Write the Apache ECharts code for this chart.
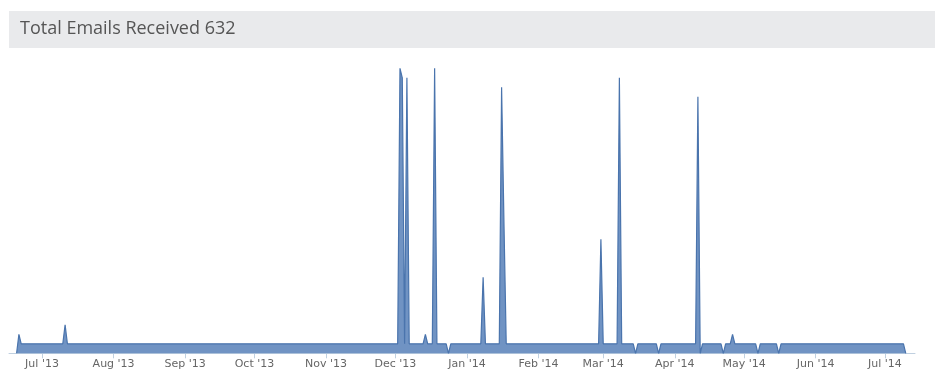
<!DOCTYPE html>
<html>
<head>
<meta charset="utf-8">
<script src="https://cdn.jsdelivr.net/npm/echarts@6/dist/echarts.min.js"></script>
<style>
html,body{margin:0;padding:0;background:#fff;}
#chart{width:944px;height:378px;}
</style>
</head>
<body>
<div id="chart"></div>
<script>
var titleText = 'Total Emails Received 632';

var dates = [
  '2013-06-20','2013-06-21','2013-06-22','2013-07-10','2013-07-11','2013-07-12',
  '2013-12-02','2013-12-03','2013-12-04','2013-12-05','2013-12-06','2013-12-07',
  '2013-12-13','2013-12-14','2013-12-15','2013-12-17','2013-12-18','2013-12-19',
  '2013-12-23','2013-12-24','2013-12-25',
  '2014-01-07','2014-01-08','2014-01-09','2014-01-15','2014-01-16','2014-01-17','2014-01-18',
  '2014-02-27','2014-02-28','2014-03-01','2014-03-07','2014-03-08','2014-03-09',
  '2014-03-14','2014-03-15','2014-03-16','2014-03-24','2014-03-25','2014-03-26',
  '2014-04-10','2014-04-11','2014-04-12','2014-04-13','2014-04-21','2014-04-22','2014-04-23',
  '2014-04-25','2014-04-26','2014-04-27','2014-05-06','2014-05-07','2014-05-08',
  '2014-05-15','2014-05-16','2014-05-17','2014-07-09','2014-07-10'
];
var emails = [
  0,2,1,1,3,1,
  1,30,29,1,29,1,
  1,2,1,1,30,1,
  1,0,1,
  1,8,1,1,28,14,1,
  1,12,1,1,29,1,
  1,0,1,1,0,1,
  1,27,0,1,1,0,1,
  1,2,1,1,0,1,
  1,0,1,1,0
];

var tickDates = ['2013-07-01','2013-08-01','2013-09-01','2013-10-01','2013-11-01','2013-12-01',
  '2014-01-01','2014-02-01','2014-03-01','2014-04-01','2014-05-01','2014-06-01','2014-07-01'];
var monthNames = ['Jan','Feb','Mar','Apr','May','Jun','Jul','Aug','Sep','Oct','Nov','Dec'];

function toTs(s){
  var p = s.split(/[- :]/).map(Number);
  return new Date(p[0], p[1]-1, p[2], p[3]||0, p[4]||0).getTime();
}

var seriesData = dates.map(function(d,i){ return [toTs(d), emails[i]]; });
var tickTs = tickDates.map(toTs);

var chart = echarts.init(document.getElementById('chart'), null, {renderer:'canvas'});
chart.setOption({
  animation:false,
  graphic:[
    {type:'rect', shape:{x:9,y:11,width:926,height:37}, style:{fill:'#e9eaec'}, silent:true},
    {type:'text', x:20, y:29, style:{text:titleText, fill:'#555555', font:'18px "Open Sans"', verticalAlign:'middle'}}
  ],
  grid:{left:9, right:29, top:68.3, bottom:24.7, containLabel:false},
  xAxis:{
    type:'value',
    min: toTs('2013-06-16 17:00'),
    max: toTs('2014-07-14'),
    splitLine:{show:false},
    axisLine:{show:true, lineStyle:{color:'#C0D0E0', width:1}},
    axisTick:{show:true, length:5, lineStyle:{color:'#C0D0E0'}, customValues: tickTs},
    axisLabel:{
      customValues: tickTs,
      showMinLabel:true, showMaxLabel:true,
      color:'#666666', fontSize:11, fontFamily:'"DejaVu Sans", sans-serif', margin:5,
      formatter:function(v){
        var d = new Date(v);
        return monthNames[d.getMonth()] + " '" + String(d.getFullYear()).slice(2);
      }
    }
  },
  yAxis:{
    type:'value', min:0, max:30,
    show:false, splitLine:{show:false}
  },
  series:[{
    type:'line',
    data:seriesData,
    symbol:'none',
    lineStyle:{color:'#4a74ad', width:1.2},
    areaStyle:{color:'#7093c3', opacity:1}
  }]
});
</script>
</body>
</html>
